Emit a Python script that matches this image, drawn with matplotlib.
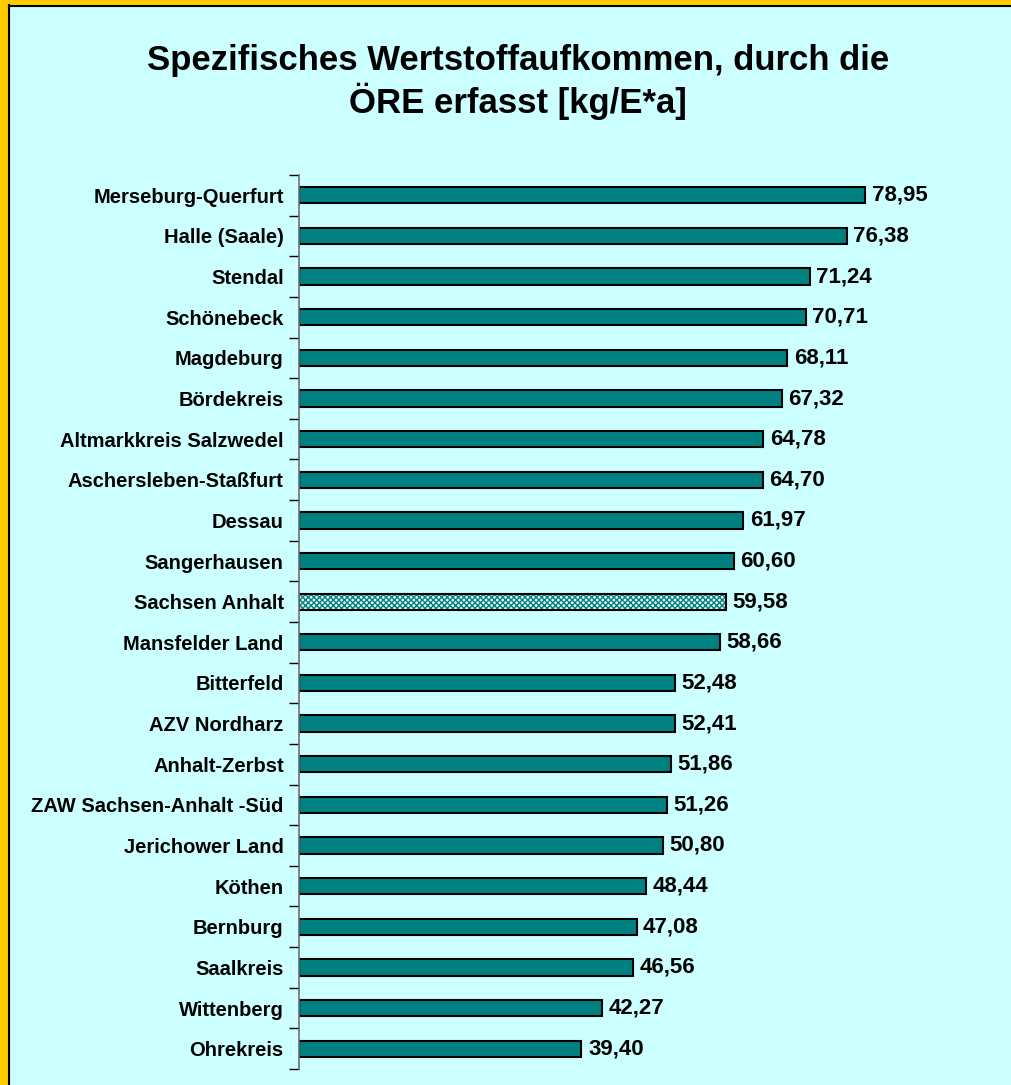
import numpy as np
import matplotlib.pyplot as plt
from matplotlib.patches import Rectangle
from matplotlib.lines import Line2D

plt.rcParams['font.family'] = ['Liberation Sans', 'DejaVu Sans']

# data, top to bottom
regions = ['Merseburg-Querfurt', 'Halle (Saale)', 'Stendal', 'Schönebeck', 'Magdeburg',
           'Bördekreis', 'Altmarkkreis Salzwedel', 'Aschersleben-Staßfurt', 'Dessau',
           'Sangerhausen', 'Sachsen Anhalt', 'Mansfelder Land', 'Bitterfeld', 'AZV Nordharz',
           'Anhalt-Zerbst', 'ZAW Sachsen-Anhalt -Süd', 'Jerichower Land', 'Köthen',
           'Bernburg', 'Saalkreis', 'Wittenberg', 'Ohrekreis']
values = [78.95, 76.38, 71.24, 70.71, 68.11, 67.32, 64.78, 64.70, 61.97, 60.60, 59.58,
          58.66, 52.48, 52.41, 51.86, 51.26, 50.80, 48.44, 47.08, 46.56, 42.27, 39.40]
highlight = 'Sachsen Anhalt'

bg = '#CCFFFF'
teal = '#008080'

fig = plt.figure(figsize=(10.12, 10.85), dpi=100)
fig.patch.set_facecolor(bg)

# yellow frame on top and left + thin black line
fig.patches.append(Rectangle((0, 0), 9/1012, 1, transform=fig.transFigure, color='#FFCC00', zorder=0))
fig.patches.append(Rectangle((0, 1 - 5/1085), 1, 5/1085, transform=fig.transFigure, color='#FFCC00', zorder=0))
fig.lines.append(Line2D([9.5/1012, 9.5/1012], [0, 1 - 5/1085], transform=fig.transFigure, color='black', lw=1.5))
fig.lines.append(Line2D([9.5/1012, 1], [1 - 5.5/1085, 1 - 5.5/1085], transform=fig.transFigure, color='black', lw=1.5))

ax = fig.add_axes([299/1012, 16/1085, 701/1012, (1069-175)/1085])
ax.set_facecolor(bg)

y = np.arange(len(regions))
plain = [0 if r == highlight else v for r, v in zip(regions, values)]
hl = [v if r == highlight else 0 for r, v in zip(regions, values)]

bars = ax.barh(y, plain, height=0.4, color=teal, edgecolor='black', linewidth=1.5)
ax.barh(y, hl, height=0.4, color='#E8F8F8', edgecolor=teal, linewidth=0, hatch='xxxxxx')
ax.barh(y, hl, height=0.4, fill=False, edgecolor='black', linewidth=1.5)

for yi, v in zip(y, values):
    ax.text(v + 0.9, yi, f'{v:.2f}'.replace('.', ','), va='center', ha='left',
            fontsize=16, fontweight='bold')

ax.set_xlim(0, 701 / 7.17)
ax.set_ylim(len(regions) - 0.5, -0.5)
ax.set_yticks(y)
ax.set_yticklabels(regions, fontsize=14.5, fontweight='bold')
ax.set_yticks(np.arange(len(regions) + 1) - 0.5, minor=True)
ax.tick_params(axis='y', which='major', length=0, pad=11)
ax.tick_params(axis='y', which='minor', length=7, width=1, color='black')
ax.set_xticks([])
for s in ['top', 'right', 'bottom']:
    ax.spines[s].set_visible(False)
ax.spines['left'].set_color('#707070')
ax.spines['left'].set_linewidth(1.2)

fig.text(518/1012, 1 - 82/1085, 'Spezifisches Wertstoffaufkommen, durch die\nÖRE erfasst [kg/E*a]',
         ha='center', va='center', fontsize=25, fontweight='bold', linespacing=1.18)

fig.savefig('out.png', dpi=100, facecolor=fig.get_facecolor())
